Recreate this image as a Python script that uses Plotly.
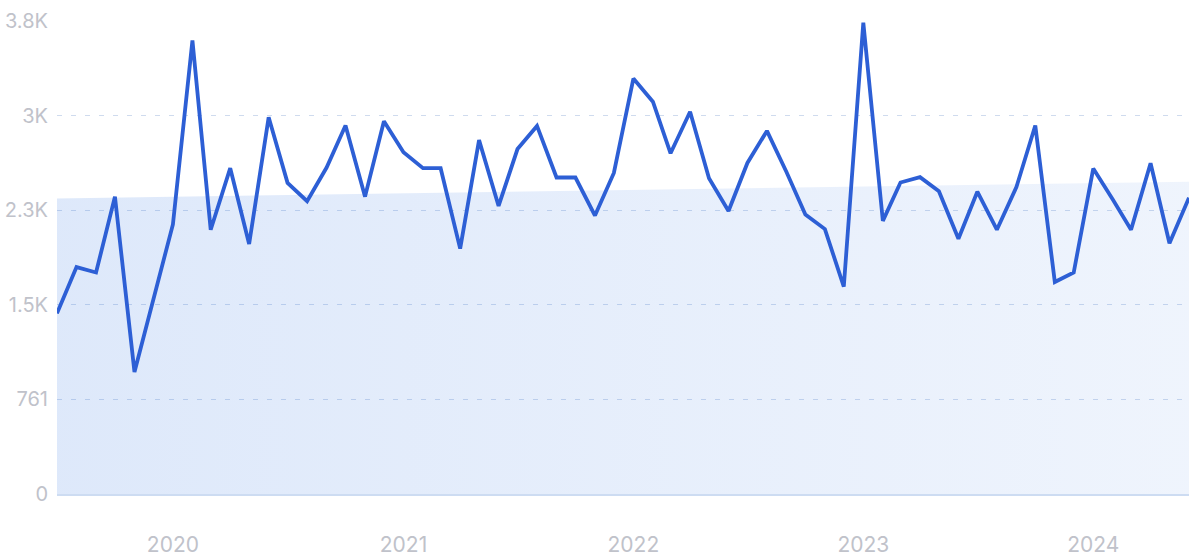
import plotly.graph_objects as go
import pandas as pd

months = pd.date_range("2019-07-01", "2024-06-01", freq="MS")
values = [1453, 1825, 1782, 2392, 981, 1580, 2169, 3648, 2126, 2621,
          2011, 3030, 2503, 2355, 2626, 2964, 2392, 2998, 2749, 2621,
          2621, 1974, 2847, 2317, 2775, 2961, 2546, 2546, 2240, 2583,
          3342, 3156, 2741, 3075, 2540, 2277, 2663, 2921, 2590, 2249,
          2131, 1668, 3791, 2197, 2506, 2549, 2435, 2054, 2432, 2126,
          2469, 2964, 1705, 1782, 2618, 2369, 2126, 2661, 2017, 2383]
trend_x = ["2019-07-01", "2024-06-01"]
trend_y = [2377, 2512]
y_ticks = [0, 761, 1522, 2283, 3044, 3805]
y_labels = ["0", "761", "1.5K", "2.3K", "3K", "3.8K"]
x_ticks = ["2020-01-01", "2021-01-01", "2022-01-01", "2023-01-01", "2024-01-01"]
x_labels = ["2020", "2021", "2022", "2023", "2024"]

fig = go.Figure()
fig.add_trace(go.Scatter(
    x=trend_x, y=trend_y, mode="lines", line=dict(width=0),
    fill="tozeroy",
    fillgradient=dict(type="horizontal",
                      colorscale=[[0, "rgba(40,110,225,0.155)"],
                                  [1, "rgba(40,110,225,0.075)"]]),
    hoverinfo="skip", showlegend=False))
fig.add_trace(go.Scatter(
    x=months, y=values, mode="lines",
    line=dict(color="#2d5fd5", width=3.8),
    showlegend=False))

fig.update_layout(
    width=1200, height=557,
    margin=dict(l=57, r=11, t=21, b=63),
    paper_bgcolor="white", plot_bgcolor="white",
    font=dict(family="Inter, Roboto, sans-serif", color="#c0c2ca"),
)
fig.update_xaxes(
    range=["2019-07-01", "2024-06-01"],
    tickvals=x_ticks, ticktext=x_labels,
    tickfont=dict(size=21, color="#c0c2ca"),
    showgrid=False, zeroline=False, automargin=False,
    showline=True, linecolor="#cddcf2", linewidth=1.5,
    ticks="", ticklabelstandoff=31,
)
fig.update_yaxes(
    range=[0, 3805],
    tickvals=y_ticks, ticktext=y_labels,
    tickfont=dict(size=20, color="#c0c2ca"),
    showgrid=True, gridcolor="#cfdbee", griddash="5px,9px", gridwidth=1,
    zeroline=False, showline=False, automargin=False,
    ticks="", ticklabelstandoff=8,
)
fig.write_html("out.html",
               config={"displayModeBar": False},
               post_script="document.body.style.margin='0';document.body.style.overflow='hidden';")
